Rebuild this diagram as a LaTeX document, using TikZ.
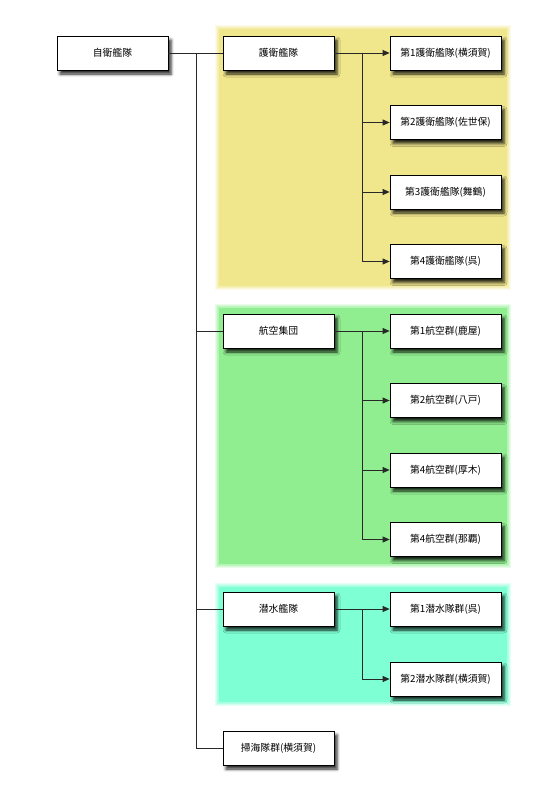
\documentclass[tikz,border=0pt]{standalone}
\usepackage{fontspec}
\newfontfamily\jpfont{Noto Sans CJK JP}
\usetikzlibrary{arrows.meta,shadows.blur,calc}
\definecolor{bgyellow}{RGB}{240,230,140}
\definecolor{bggreen}{RGB}{144,238,144}
\definecolor{bgcyan}{RGB}{127,255,212}
\definecolor{linegray}{RGB}{40,40,40}
\tikzset{
  unitbox/.style={draw=black, line width=0.8pt, fill=white, minimum width=111pt, minimum height=34pt, inner sep=0pt,
    font=\jpfont\fontsize{9.8}{11}\selectfont,
    blur shadow={shadow xshift=3pt, shadow yshift=-4pt, shadow blur radius=3pt, shadow opacity=85}},
  conn/.style={draw=linegray, line width=0.8pt},
  arr/.style={conn, -{Triangle[length=7pt,width=6pt]}},
}
\newcommand{\glowbox}[3]{%
  \foreach \g in {4,3.2,2.4,1.6,0.8}{\fill[#1, opacity=0.2] ($(#2)+(-\g,-\g)$) rectangle ($(#3)+(\g,\g)$);}
  \fill[#1] (#2) rectangle (#3);}
\begin{document}
\begin{tikzpicture}[x=1pt,y=-1pt]
\useasboundingbox (0,0) rectangle (557,800);
% background groups
\glowbox{bgyellow}{219,29}{507,286}
\glowbox{bggreen}{219,308}{507,564}
\glowbox{bgcyan}{219,587}{507,702}
% nodes
\node[unitbox] (root) at (112.5,53) {自衛艦隊};
\node[unitbox] (goei) at (278.5,53) {護衛艦隊};
\node[unitbox] (koku) at (278.5,331) {航空集団};
\node[unitbox] (sensui) at (278.5,609) {潜水艦隊};
\node[unitbox] (soukai) at (278.5,748) {掃海隊群(横須賀)};
\node[unitbox] (g1) at (445.5,53) {第1護衛艦隊(横須賀)};
\node[unitbox] (g2) at (445.5,122.5) {第2護衛艦隊(佐世保)};
\node[unitbox] (g3) at (445.5,192) {第3護衛艦隊(舞鶴)};
\node[unitbox] (g4) at (445.5,261.5) {第4護衛艦隊(呉)};
\node[unitbox] (k1) at (445.5,331) {第1航空群(鹿屋)};
\node[unitbox] (k2) at (445.5,400.5) {第2航空群(八戸)};
\node[unitbox] (k3) at (445.5,470) {第4航空群(厚木)};
\node[unitbox] (k4) at (445.5,539.5) {第4航空群(那覇)};
\node[unitbox] (s1) at (445.5,609) {第1潜水隊群(呉)};
\node[unitbox] (s2) at (445.5,679) {第2潜水隊群(横須賀)};
% trunk
\coordinate (trunk) at (196,53);
\draw[conn] (root.east) -- (goei.west);
\draw[conn] (trunk) |- (soukai.west);
\draw[conn] (trunk |- koku.west) -- (koku.west);
\draw[conn] (trunk |- sensui.west) -- (sensui.west);
% second level
\coordinate (gj) at (362,53);
\coordinate (kj) at (362,331);
\coordinate (sj) at (362,609);
\draw[conn] (goei.east) -- (gj);
\draw[conn] (koku.east) -- (kj);
\draw[conn] (sensui.east) -- (sj);
\foreach \c in {g1,g2,g3,g4}{\draw[arr] (gj) |- (\c.west);}
\foreach \c in {k1,k2,k3,k4}{\draw[arr] (kj) |- (\c.west);}
\foreach \c in {s1,s2}{\draw[arr] (sj) |- (\c.west);}
\end{tikzpicture}
\end{document}
